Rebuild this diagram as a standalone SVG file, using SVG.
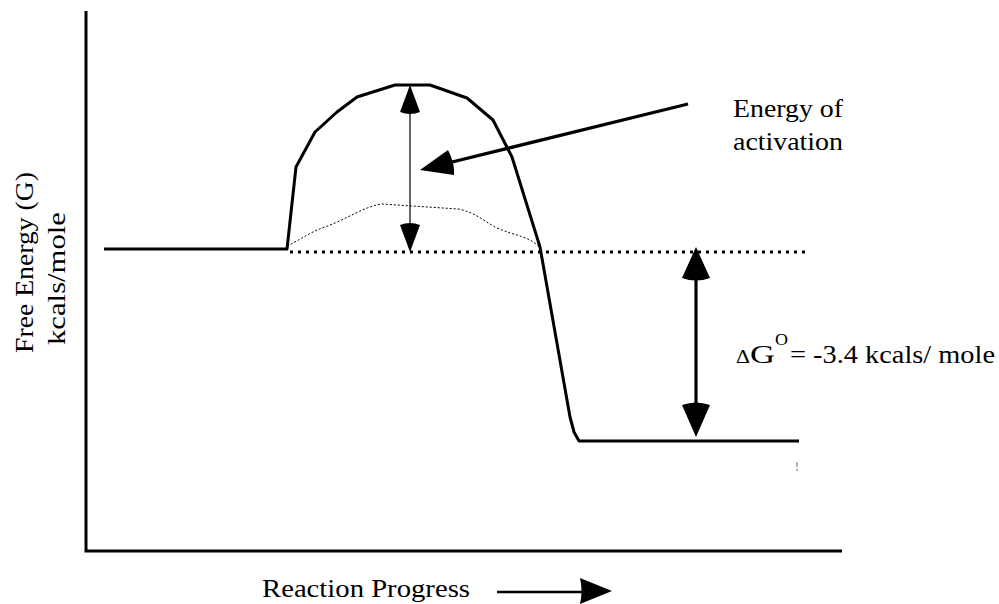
<svg xmlns="http://www.w3.org/2000/svg" width="999" height="604" viewBox="0 0 999 604">
<style>
  text { font-family: "Liberation Serif", "Times New Roman", serif; fill: #000; }
  .thick { fill: none; stroke: #000; stroke-width: 3; stroke-linejoin: round; }
  .axis { fill: none; stroke: #000; stroke-width: 3; }
  .head { fill: #000; stroke: none; }
</style>
<rect width="999" height="604" fill="#fff"/>
<g id="axes">
  <polyline class="axis" points="86,11 86,551 842,551"/>
</g>
<g id="curves">
  <polyline class="thick" points="104,249 287,249 296,167 315,132 337,112 357,97 395,85 430,85 467,98 493,120 512,157 540,247 570,417 574,432 579,441 799,441"/>
  <path d="M287,246 C300,240 310,232 325,227 C345,220 365,206 382,204 L458,209 C475,212 485,222 497,228 C515,236 530,236 540,248" fill="none" stroke="#000" stroke-width="1" stroke-dasharray="2 2"/>
  <line x1="290" y1="252" x2="806" y2="252" stroke="#000" stroke-width="3" stroke-dasharray="3 5"/>
  <line x1="797" y1="462" x2="797" y2="473" stroke="#666" stroke-width="1" stroke-dasharray="5 2 2 2"/>
</g>
<g id="connectors">
  <line x1="410" y1="105" x2="410" y2="232" stroke="#000" stroke-width="1.2"/>
  <path class="head" d="M410,85 L400,112 Q410,116 420,112 Z"/>
  <path class="head" d="M410,252 L400,225 Q410,221 420,225 Z"/>
  <line x1="688" y1="104" x2="448" y2="163" stroke="#000" stroke-width="3.2"/>
  <path class="head" d="M420,170 L448,150 Q455,163 454,175 Z"/>
  <line x1="696" y1="270" x2="696" y2="412" stroke="#000" stroke-width="3.2"/>
  <path class="head" d="M696,247 L682,278 Q696,283 710,278 Z"/>
  <path class="head" d="M696,437 L682,405 Q696,400 710,405 Z"/>
  <line x1="497" y1="592" x2="584" y2="592" stroke="#000" stroke-width="2.5"/>
  <path class="head" d="M612,591 L580,578 Q583,591 580,604 Z"/>
</g>
<g id="labels">
  <text x="733" y="117" font-size="26" textLength="110" lengthAdjust="spacingAndGlyphs">Energy of</text>
  <text x="733" y="150" font-size="26" textLength="110" lengthAdjust="spacingAndGlyphs">activation</text>
  <text x="736" y="363" font-size="19" textLength="14" lengthAdjust="spacingAndGlyphs">Δ</text>
  <text x="750" y="363" font-size="25" textLength="25" lengthAdjust="spacingAndGlyphs">G</text>
  <text x="775" y="345" font-size="17" textLength="13" lengthAdjust="spacingAndGlyphs">O</text>
  <text x="790" y="363" font-size="25" textLength="205" lengthAdjust="spacingAndGlyphs">= -3.4 kcals/ mole</text>
  <text x="262" y="597" font-size="25" textLength="208" lengthAdjust="spacingAndGlyphs">Reaction Progress</text>
  <text x="33" y="353" font-size="25" transform="rotate(-90 33 353)" textLength="181" lengthAdjust="spacingAndGlyphs">Free Energy (G)</text>
  <text x="65" y="345" font-size="25" transform="rotate(-90 65 345)" textLength="133" lengthAdjust="spacingAndGlyphs">kcals/mole</text>
</g>
</svg>
